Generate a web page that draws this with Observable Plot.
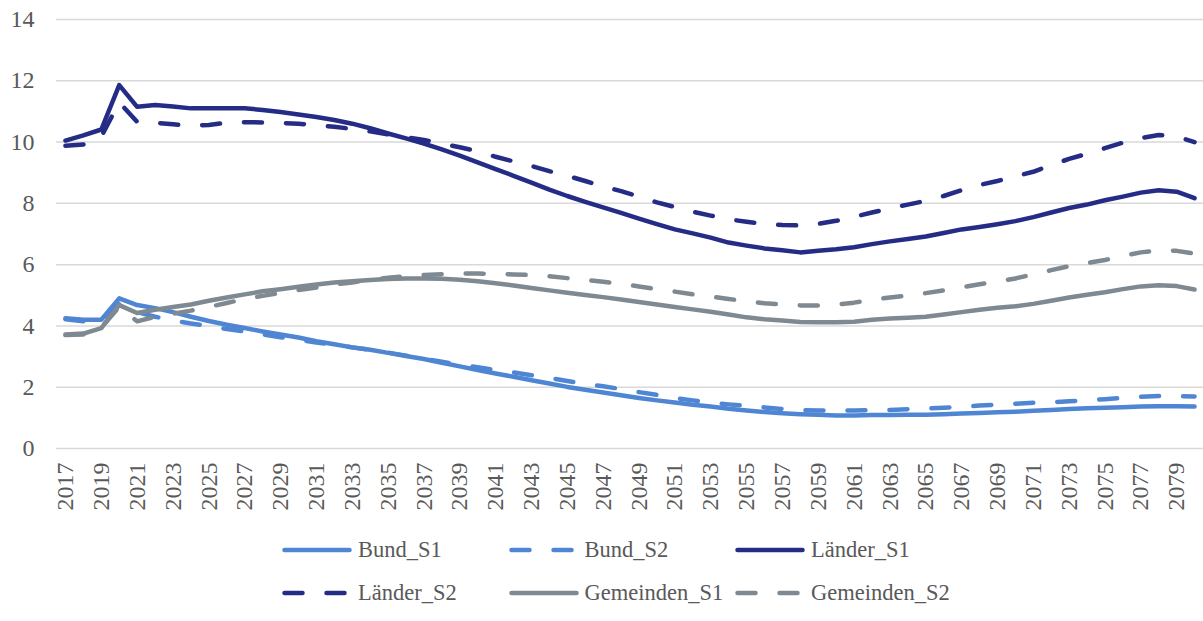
<!DOCTYPE html>
<html><head><meta charset="utf-8">
<script src="https://cdn.jsdelivr.net/npm/d3@7"></script>
<script src="https://cdn.jsdelivr.net/npm/@observablehq/plot@0.6"></script>
<style>
body{margin:0;background:#fff}
#wrap{position:relative;width:1203px;height:621px;font-family:"Liberation Serif",serif;color:#595959;background:#fff}
#chart{position:absolute;left:0;top:0}
.item{position:absolute;display:flex;align-items:center;font-size:22.5px;white-space:nowrap;height:30px}
.item svg{margin-right:6px}
</style></head>
<body><div id="wrap"><div id="chart"></div><div id="legend"></div></div>
<script>
const years = [2017,2018,2019,2020,2021,2022,2023,2024,2025,2026,2027,2028,2029,2030,2031,2032,
2033,2034,2035,2036,2037,2038,2039,2040,2041,2042,2043,2044,2045,2046,2047,2048,
2049,2050,2051,2052,2053,2054,2055,2056,2057,2058,2059,2060,2061,2062,2063,2064,
2065,2066,2067,2068,2069,2070,2071,2072,2073,2074,2075,2076,2077,2078,2079,2080];
const xTickLabels = [2017,2019,2021,2023,2025,2027,2029,2031,2033,2035,2037,2039,2041,2043,2045,2047,
2049,2051,2053,2055,2057,2059,2061,2063,2065,2067,2069,2071,2073,2075,2077,2079];
const yTickLabels = [0,2,4,6,8,10,12,14];

const bundS1 = [4.25,4.20,4.20,4.90,4.68,4.58,4.45,4.30,
4.16,4.04,3.93,3.82,3.72,3.62,3.50,3.40,
3.30,3.22,3.12,3.02,2.92,2.80,2.68,2.56,
2.45,2.34,2.23,2.12,2.01,1.92,1.83,1.74,
1.65,1.57,1.50,1.43,1.37,1.30,1.24,1.19,
1.15,1.12,1.10,1.08,1.08,1.09,1.09,1.10,
1.10,1.12,1.14,1.16,1.18,1.20,1.23,1.26,
1.29,1.31,1.33,1.35,1.37,1.38,1.38,1.37];
const bundS2 = [4.22,4.15,4.18,4.72,4.45,4.30,4.18,4.08,
4.00,3.90,3.82,3.72,3.63,3.55,3.46,3.38,
3.30,3.22,3.13,3.03,2.93,2.83,2.74,2.65,
2.56,2.48,2.39,2.30,2.20,2.11,2.03,1.94,
1.84,1.75,1.65,1.57,1.50,1.44,1.39,1.34,
1.29,1.25,1.24,1.24,1.24,1.25,1.26,1.28,
1.30,1.33,1.36,1.40,1.43,1.46,1.49,1.51,
1.54,1.57,1.61,1.65,1.69,1.71,1.71,1.70];
const laenderS1 = [10.05,10.22,10.41,11.86,11.15,11.21,11.16,11.10,
11.10,11.10,11.10,11.05,10.98,10.90,10.82,10.72,
10.60,10.45,10.28,10.12,9.95,9.76,9.56,9.34,
9.12,8.90,8.68,8.45,8.24,8.05,7.87,7.69,
7.50,7.32,7.15,7.02,6.88,6.72,6.62,6.53,
6.47,6.40,6.45,6.50,6.57,6.67,6.76,6.84,
6.92,7.03,7.15,7.23,7.32,7.42,7.55,7.70,
7.85,7.96,8.10,8.22,8.35,8.43,8.38,8.17];
const laenderS2 = [9.88,9.92,10.18,11.30,10.66,10.63,10.58,10.53,
10.56,10.63,10.65,10.64,10.62,10.60,10.55,10.50,
10.43,10.35,10.25,10.16,10.07,9.95,9.83,9.70,
9.52,9.37,9.22,9.05,8.90,8.73,8.55,8.40,
8.22,8.03,7.88,7.73,7.60,7.48,7.40,7.33,
7.29,7.28,7.33,7.43,7.56,7.70,7.84,7.96,
8.08,8.24,8.43,8.60,8.73,8.88,9.03,9.25,
9.45,9.62,9.80,9.98,10.13,10.23,10.18,10.00];
const gemeindenS1 = [3.72,3.75,3.93,4.68,4.42,4.53,4.62,4.70,
4.82,4.93,5.03,5.13,5.20,5.28,5.35,5.42,
5.46,5.50,5.53,5.55,5.55,5.54,5.51,5.46,
5.39,5.32,5.24,5.16,5.08,5.01,4.94,4.86,
4.78,4.70,4.62,4.54,4.46,4.37,4.28,4.22,
4.18,4.13,4.12,4.12,4.14,4.20,4.24,4.27,
4.30,4.37,4.45,4.53,4.59,4.64,4.72,4.82,
4.93,5.02,5.10,5.20,5.29,5.33,5.30,5.19];
const gemeindenS2 = [3.70,3.72,3.95,4.62,4.15,4.30,4.40,4.50,
4.62,4.75,4.88,4.98,5.08,5.17,5.25,5.35,
5.42,5.50,5.57,5.62,5.66,5.69,5.71,5.71,
5.70,5.68,5.66,5.62,5.56,5.50,5.44,5.37,
5.29,5.20,5.12,5.03,4.96,4.88,4.81,4.74,
4.70,4.67,4.67,4.70,4.76,4.85,4.93,4.99,
5.07,5.16,5.26,5.36,5.45,5.55,5.68,5.82,
5.95,6.05,6.15,6.28,6.40,6.47,6.45,6.36];

const seriesNames = ["Bund_S1","Bund_S2","Länder_S1","Länder_S2","Gemeinden_S1","Gemeinden_S2"];
const seriesValues = [bundS1,bundS2,laenderS1,laenderS2,gemeindenS1,gemeindenS2];
const seriesColors = ["#4f86d4","#4f86d4","#242c86","#242c86","#7f8991","#7f8991"];
const seriesDashed = [false,true,false,true,false,true];
const DASH = "18,24";

const table = [];
seriesNames.forEach((name,i)=>{
  seriesValues[i].forEach((v,j)=>table.push({series:name, year:years[j], value:v}));
});

const lineMarks = seriesNames.map((name,i)=>Plot.line(table.filter(d=>d.series===name),{
  x:"year", y:"value", stroke:seriesColors[i], strokeWidth:4.5,
  strokeLinecap:"round", strokeLinejoin:"round",
  strokeDasharray: seriesDashed[i] ? DASH : null
}));

const chart = Plot.plot({
  width:1203, height:530,
  marginTop:19, marginBottom:82, marginLeft:56, marginRight:0,
  style:{fontFamily:'"Liberation Serif", serif', fontSize:"24px", color:"#595959", background:"transparent", overflow:"visible"},
  x:{type:"point", domain:years, padding:0.5},
  y:{domain:[0,14]},
  marks:[
    Plot.gridY(yTickLabels,{stroke:"#d9d9d9", strokeOpacity:1, strokeWidth:1.5}),
    Plot.axisY(yTickLabels,{tickSize:0, tickPadding:22, label:null, tickFormat:d=>String(d)}),
    Plot.axisX(xTickLabels,{tickSize:0, tickRotate:-90, tickPadding:14, label:null, tickFormat:d=>String(d)}),
    ...lineMarks
  ]
});
document.getElementById("chart").appendChild(chart);

// legend
const legend = document.getElementById("legend");
seriesNames.forEach((name,k)=>{
  const col = k%3, row = Math.floor(k/3);
  const div = document.createElement("div");
  div.className="item";
  div.style.left = (282 + col*226.5) + "px";
  div.style.top = ([550,593][row] - 15) + "px";
  const svgNS="http://www.w3.org/2000/svg";
  const s = document.createElementNS(svgNS,"svg");
  s.setAttribute("width",70); s.setAttribute("height",10);
  const l = document.createElementNS(svgNS,"line");
  l.setAttribute("x1",2.5); l.setAttribute("x2",67.5); l.setAttribute("y1",5); l.setAttribute("y2",5);
  l.setAttribute("stroke",seriesColors[k]); l.setAttribute("stroke-width",4.5);
  l.setAttribute("stroke-linecap","round");
  if(seriesDashed[k]) l.setAttribute("stroke-dasharray",DASH);
  s.appendChild(l);
  div.appendChild(s);
  const t = document.createElement("span");
  t.textContent = name;
  div.appendChild(t);
  legend.appendChild(div);
});
</script></body></html>
